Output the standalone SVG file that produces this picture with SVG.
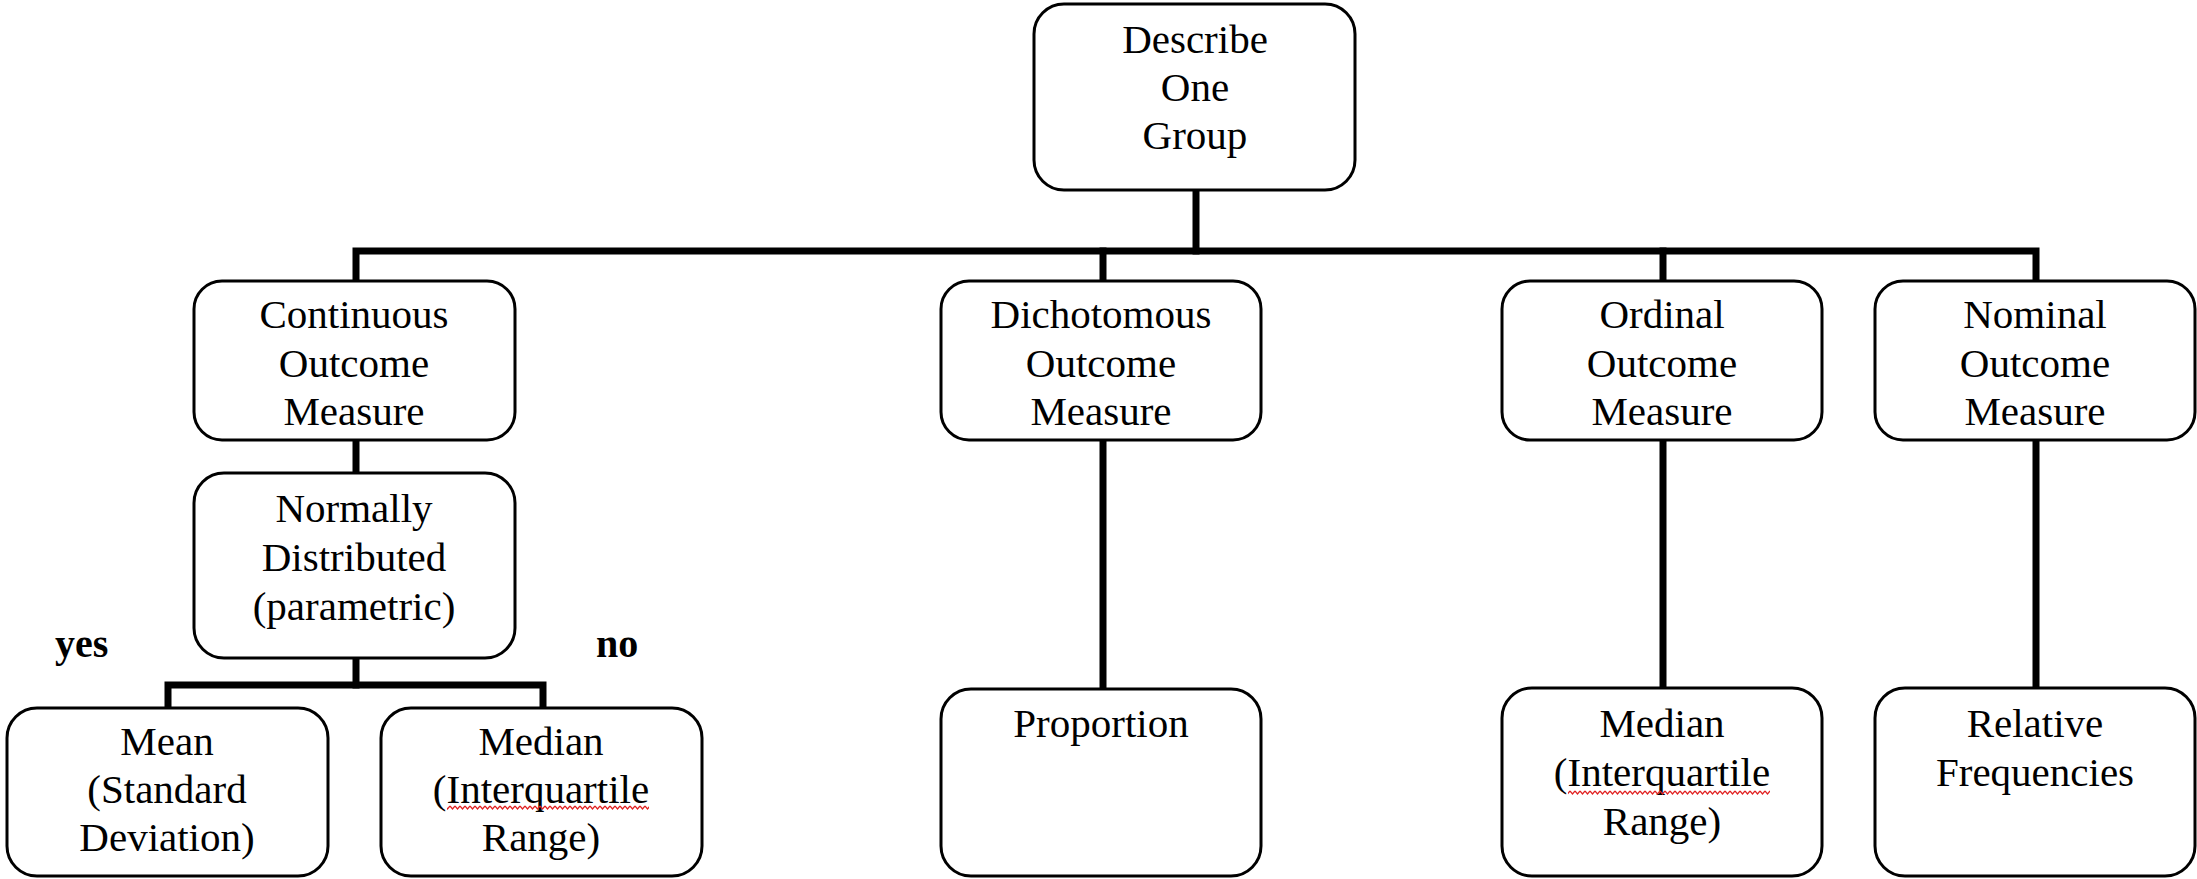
<svg xmlns="http://www.w3.org/2000/svg" width="2197" height="879" viewBox="0 0 2197 879">
  <style>
    .box { fill: #ffffff; stroke: #000000; stroke-width: 3; }
    .lbl { font-family: "Liberation Serif", "Times New Roman", serif; font-size: 41px; fill: #000000; text-anchor: middle; }
    .tag { font-family: "Liberation Serif", "Times New Roman", serif; font-size: 40px; font-weight: bold; fill: #000000; }
    .wire { fill: none; stroke: #000000; stroke-width: 7; stroke-linecap: square; }
  </style>
  <defs>
    <!-- wavy spell-check underline -->
    <pattern id="squiggle" patternUnits="userSpaceOnUse" width="5" height="5">
      <path d="M0 1 L2.5 4 L5 1" fill="none" stroke="#e02020" stroke-width="1.2"/>
    </pattern>
  </defs>

  <rect width="2197" height="879" fill="#ffffff"/>

  <g id="connectors">
    <path class="wire" d="M1196 190 V251"/>
    <path class="wire" d="M356 281 V251 H2036 V281"/>
    <path class="wire" d="M1103 251 V281"/>
    <path class="wire" d="M1663 251 V281"/>
    <path class="wire" d="M356 440 V473"/>
    <path class="wire" d="M356 658 V685"/>
    <path class="wire" d="M168 708 V685 H543 V708"/>
    <path class="wire" d="M1103 440 V689"/>
    <path class="wire" d="M1663 440 V688"/>
    <path class="wire" d="M2036 440 V688"/>
  </g>

  <g id="root">
    <rect class="box" x="1034" y="4" width="321" height="186" rx="30"/>
    <text class="lbl" x="1195" y="53">Describe</text>
    <text class="lbl" x="1195" y="101">One</text>
    <text class="lbl" x="1195" y="149">Group</text>
  </g>

  <g id="continuous">
    <rect class="box" x="194" y="281" width="321" height="159" rx="28"/>
    <text class="lbl" x="354" y="328">Continuous</text>
    <text class="lbl" x="354" y="377">Outcome</text>
    <text class="lbl" x="354" y="425">Measure</text>
  </g>

  <g id="dichotomous">
    <rect class="box" x="941" y="281" width="320" height="159" rx="28"/>
    <text class="lbl" x="1101" y="328">Dichotomous</text>
    <text class="lbl" x="1101" y="377">Outcome</text>
    <text class="lbl" x="1101" y="425">Measure</text>
  </g>

  <g id="ordinal">
    <rect class="box" x="1502" y="281" width="320" height="159" rx="28"/>
    <text class="lbl" x="1662" y="328">Ordinal</text>
    <text class="lbl" x="1662" y="377">Outcome</text>
    <text class="lbl" x="1662" y="425">Measure</text>
  </g>

  <g id="nominal">
    <rect class="box" x="1875" y="281" width="320" height="159" rx="28"/>
    <text class="lbl" x="2035" y="328">Nominal</text>
    <text class="lbl" x="2035" y="377">Outcome</text>
    <text class="lbl" x="2035" y="425">Measure</text>
  </g>

  <g id="normality">
    <rect class="box" x="194" y="473" width="321" height="185" rx="30"/>
    <text class="lbl" x="354" y="522">Normally</text>
    <text class="lbl" x="354" y="571">Distributed</text>
    <text class="lbl" x="354" y="620">(parametric)</text>
  </g>

  <g id="branch-labels">
    <text class="tag" x="55" y="657">yes</text>
    <text class="tag" x="596" y="657">no</text>
  </g>

  <g id="mean">
    <rect class="box" x="7" y="708" width="321" height="168" rx="30"/>
    <text class="lbl" x="167" y="755">Mean</text>
    <text class="lbl" x="167" y="803">(Standard</text>
    <text class="lbl" x="167" y="851">Deviation)</text>
  </g>

  <g id="median-continuous">
    <rect class="box" x="381" y="708" width="321" height="168" rx="30"/>
    <text class="lbl" x="541" y="755">Median</text>
    <text class="lbl" x="541" y="803">(Interquartile</text>
    <text class="lbl" x="541" y="851">Range)</text>
    <rect x="447" y="805" width="202" height="5" fill="url(#squiggle)"/>
  </g>

  <g id="proportion">
    <rect class="box" x="941" y="689" width="320" height="187" rx="30"/>
    <text class="lbl" x="1101" y="737">Proportion</text>
  </g>

  <g id="median-ordinal">
    <rect class="box" x="1502" y="688" width="320" height="188" rx="30"/>
    <text class="lbl" x="1662" y="737">Median</text>
    <text class="lbl" x="1662" y="786">(Interquartile</text>
    <text class="lbl" x="1662" y="835">Range)</text>
    <rect x="1568" y="790" width="202" height="5" fill="url(#squiggle)"/>
  </g>

  <g id="relative-frequencies">
    <rect class="box" x="1875" y="688" width="320" height="188" rx="30"/>
    <text class="lbl" x="2035" y="737">Relative</text>
    <text class="lbl" x="2035" y="786">Frequencies</text>
  </g>
</svg>
